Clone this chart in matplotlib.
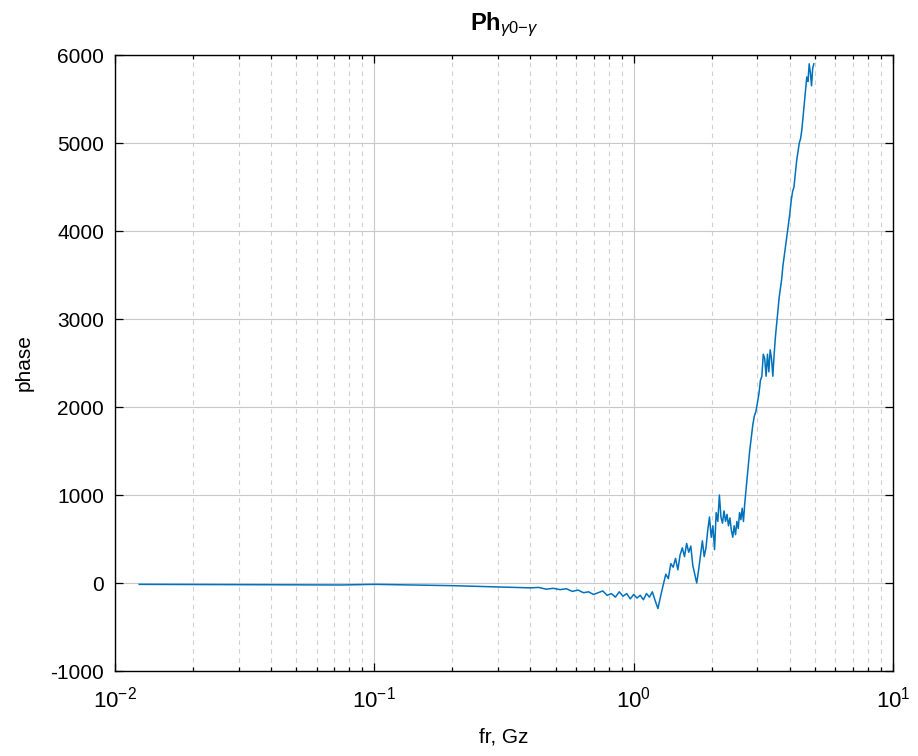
import numpy as np
import matplotlib
matplotlib.use('Agg')
import matplotlib.pyplot as plt

plt.rcParams['font.family'] = ['Liberation Sans', 'DejaVu Sans']
plt.rcParams['mathtext.fontset'] = 'custom'
plt.rcParams['mathtext.rm'] = 'Liberation Sans'
plt.rcParams['mathtext.it'] = 'Liberation Sans:italic'
plt.rcParams['mathtext.bf'] = 'Liberation Sans:bold'
plt.rcParams['axes.unicode_minus'] = False

# frequency, GHz
freq = [0.0124, 0.025, 0.05, 0.075, 0.1, 0.13, 0.16, 0.2, 0.25, 0.3,
        0.35, 0.4, 0.43, 0.46, 0.49, 0.52, 0.55, 0.58, 0.61, 0.64,
        0.67, 0.70, 0.73, 0.76, 0.79, 0.82, 0.85, 0.88, 0.91, 0.94,
        0.97, 1.00, 1.03, 1.06, 1.09, 1.12, 1.15, 1.18, 1.21, 1.24,
        1.27, 1.30, 1.33, 1.36, 1.39, 1.42, 1.45, 1.48, 1.51, 1.54,
        1.57, 1.60, 1.63, 1.66, 1.69, 1.72, 1.75, 1.78, 1.81, 1.84,
        1.87, 1.90, 1.93, 1.96, 1.99, 2.02, 2.05, 2.08, 2.11, 2.14,
        2.17, 2.20, 2.23, 2.26, 2.29, 2.32, 2.35, 2.38, 2.41, 2.44,
        2.47, 2.50, 2.53, 2.56, 2.59, 2.62, 2.65, 2.68, 2.72, 2.76,
        2.80, 2.84, 2.88, 2.92, 2.96, 3.00, 3.04, 3.08, 3.12, 3.16,
        3.20, 3.24, 3.28, 3.32, 3.36, 3.40, 3.44, 3.48, 3.52, 3.56,
        3.60, 3.64, 3.68, 3.72, 3.76, 3.80, 3.84, 3.88, 3.92, 3.96,
        4.00, 4.05, 4.10, 4.15, 4.20, 4.25, 4.30, 4.35, 4.40, 4.45,
        4.50, 4.55, 4.60, 4.65, 4.70, 4.75, 4.80, 4.85, 4.90, 4.95]

phase = [-15, -18, -20, -22, -15, -20, -25, -30, -38, -45,
         -50, -55, -50, -70, -60, -75, -65, -95, -80, -110,
         -100, -130, -110, -90, -140, -120, -160, -100, -150, -120,
         -180, -130, -170, -140, -190, -120, -160, -100, -200, -290,
         -150, -20, 100, 50, 220, 180, 280, 150, 320, 400,
         300, 450, 350, 420, 200, 100, 0, 150, 320, 480,
         300, 400, 600, 750, 520, 650, 380, 800, 700, 1000,
         750, 680, 820, 700, 780, 650, 740, 600, 520, 650,
         550, 700, 620, 800, 720, 850, 700, 900, 1100, 1300,
         1500, 1650, 1800, 1900, 1950, 2050, 2150, 2300, 2350, 2600,
         2550, 2350, 2600, 2400, 2650, 2550, 2350, 2600, 2800, 2950,
         3100, 3250, 3350, 3450, 3600, 3700, 3800, 3900, 4000, 4100,
         4200, 4350, 4450, 4500, 4650, 4800, 4900, 5000, 5050, 5150,
         5300, 5450, 5600, 5750, 5700, 5900, 5800, 5650, 5850, 5900]

fig = plt.figure(figsize=(9.18, 7.56), dpi=100)
ax = fig.add_axes([0.1253, 0.1124, 0.8475, 0.8148])

ax.semilogx(freq, phase, color='#0072BD', linewidth=1.1)

ax.set_xlim(1e-2, 1e1)
ax.set_ylim(-1000, 6000)
ax.set_yticks(np.arange(-1000, 6001, 1000))

ax.grid(True, which='major', color='#c8c8c8', linewidth=0.8, linestyle='-')
ax.grid(True, which='minor', axis='x', color='#d0d0d0', linewidth=0.8, linestyle=(0, (4, 4)))
ax.set_axisbelow(True)

ax.tick_params(which='both', direction='in', top=True, right=True, width=0.9)
ax.tick_params(which='major', length=6)
ax.tick_params(which='minor', length=3)
ax.tick_params(axis='y', which='major', labelsize=15, pad=8)
ax.tick_params(axis='x', which='major', labelsize=16, pad=11)
ax.tick_params(axis='x', which='minor', labelbottom=False)
for s in ax.spines.values():
    s.set_linewidth(1.0)

ax.set_xlabel('fr, Gz', fontsize=15, labelpad=11)
ax.set_ylabel('phase', fontsize=15, labelpad=12)
ax.set_title(r'$\mathbf{Ph}_{\gamma 0{-}\gamma}$', fontsize=17, pad=18)

fig.savefig('out.png', dpi=100)
